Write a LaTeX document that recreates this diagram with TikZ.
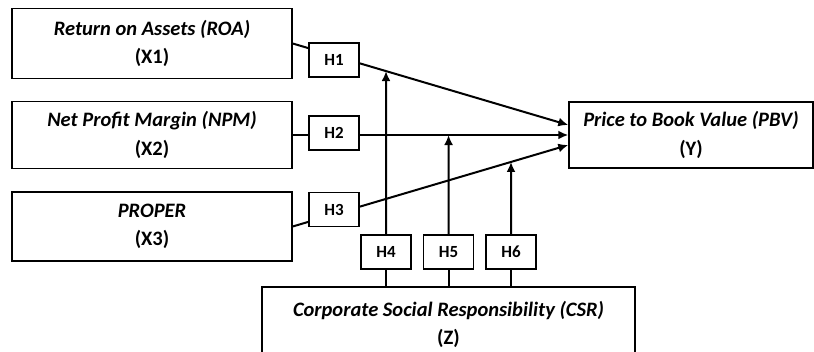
\documentclass[tikz,border=0pt]{standalone}
\usepackage{fontspec}
\setmainfont{Carlito}
\usetikzlibrary{arrows.meta}

\begin{document}
\begin{tikzpicture}[x=1pt, y=-1pt,
  var/.style={draw, line width=1.4pt, inner sep=0pt, align=center,
              font=\fontsize{20.5}{28.5}\selectfont\bfseries},
  hyp/.style={draw, line width=1.4pt, fill=white, minimum width=50pt,
              minimum height=34pt, inner sep=0pt,
              font=\fontsize{17}{18}\selectfont\bfseries},
  arr/.style={-{Latex[length=10pt,width=9pt]}, line width=2pt},
  lnk/.style={line width=2pt},
]
\useasboundingbox (0,0) rectangle (814,352);
\clip (0,0) rectangle (814,352);

% ---- Independent variables ----
\node[var, minimum width=280pt, minimum height=70pt] (x1) at (152,43.5)
  {\textit{Return on Assets (ROA)}\\(X1)};
\node[var, minimum width=280pt, minimum height=67pt] (x2) at (152,135)
  {\textit{Net Profit Margin (NPM)}\\(X2)};
\node[var, minimum width=280pt, minimum height=69pt] (x3) at (152,226.5)
  {\textit{PROPER}\\(X3)};

% ---- Dependent variable ----
\node[var, minimum width=244pt, minimum height=66pt] (y) at (691,135)
  {\textit{Price to Book Value (PBV)}\\(Y)};

% ---- Moderator ----
\node[var, minimum width=373pt, minimum height=75pt] (csr) at (448.5,324.5)
  {\textit{Corporate Social Responsibility (CSR)}\\(Z)};

% ---- Direct paths ----
\coordinate (y1) at ([yshift=10pt]y.west);
\coordinate (y3) at ([yshift=-10pt]y.west);
\draw[arr] (x1.east) -- (y1);
\draw[arr] (x2.east) -- (y.west);
\draw[arr] (x3.east) -- (y3);

\node[hyp] (h1) at (334,60)    {H1};
\node[hyp] (h2) at (334,133)   {H2};
\node[hyp] (h3) at (334,209.5) {H3};

% ---- Moderating paths ----
\node[hyp] (h4) at (386,252)   {H4};
\node[hyp] (h5) at (448.5,252) {H5};
\node[hyp] (h6) at (511,252)   {H6};

\coordinate (x1e) at (x1.east);
\coordinate (x2e) at (x2.east);
\coordinate (x3e) at (x3.east);
\coordinate (yc) at (y.west);
\coordinate (h4n) at (h4.north);
\coordinate (h5n) at (h5.north);
\coordinate (h6n) at (h6.north);
\coordinate (h4s) at (h4.south);
\coordinate (h5s) at (h5.south);
\coordinate (h6s) at (h6.south);

\draw[arr] (h4n) -- (intersection of x1e--y1 and h4s--h4n);
\draw[arr] (h5n) -- (intersection of x2e--yc and h5s--h5n);
\draw[arr] (h6n) -- (intersection of x3e--y3 and h6s--h6n);

\draw[lnk] (h4s) -- (h4s |- csr.north);
\draw[lnk] (h5s) -- (h5s |- csr.north);
\draw[lnk] (h6s) -- (h6s |- csr.north);

\end{tikzpicture}
\end{document}
